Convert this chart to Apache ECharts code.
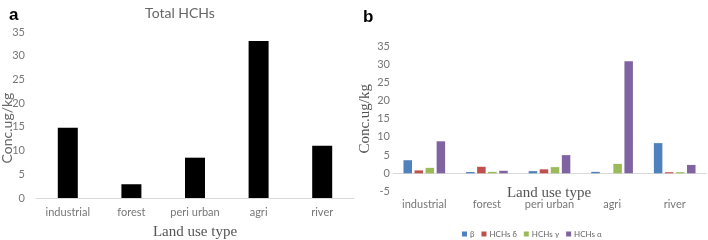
<!DOCTYPE html>
<html>
<head>
<meta charset="utf-8">
<script src="https://cdn.jsdelivr.net/npm/echarts@6/dist/echarts.min.js"></script>
<style>
  html, body { margin: 0; padding: 0; background: #fff; }
  #main { width: 708px; height: 240px; }
</style>
</head>
<body>
<div id="main"></div>
<script>
// land use categories (shared by both panels)
const categories = ['industrial', 'forest', 'peri urban', 'agri', 'river']
// panel a: total HCHs
const totalHCHs = [14.8, 2.9, 8.5, 33.1, 11.0]
// panel b: isomers
const betaHCH = [3.6, 0.35, 0.6, 0.4, 8.3]
const deltaHCH = [0.8, 1.8, 1.1, 0, 0.3]
const gammaHCH = [1.5, 0.4, 1.7, 2.6, 0.3]
const alphaHCH = [8.8, 0.7, 5.0, 30.8, 2.3]
const seriesNamesB = ['β', 'HCHs δ', 'HCHs γ', 'HCHs α']
const colorsB = ['#4F81BD', '#C0504D', '#9BBB59', '#8064A2']

const tickFont = "Lato, 'Open Sans', sans-serif"
const serif = "'Liberation Serif', 'DejaVu Serif', serif"

const chart = echarts.init(document.getElementById('main'))

const option = {
  animation: false,
  title: [
    { text: 'a', left: 4, top: 2, textStyle: { fontFamily: 'Liberation Sans', fontSize: 17, fontWeight: 'bold', color: '#000' } },
    { text: 'b', left: 358, top: 4, textStyle: { fontFamily: 'Liberation Sans', fontSize: 17, fontWeight: 'bold', color: '#000' } },
    { text: 'Total HCHs', left: 175, top: 1, textAlign: 'center', textStyle: { fontFamily: tickFont, fontSize: 14, fontWeight: 'normal', color: '#666' } },
    // panel b x-axis title (axis name gets pushed around by label overlap logic)
    { text: 'Land use type', left: 549, top: 186, textAlign: 'center', padding: 0, textStyle: { fontFamily: serif, fontSize: 15, fontWeight: 'normal', color: '#555' } },
  ],
  legend: {
    data: seriesNamesB,
    left: 462,
    top: 230,
    padding: 0,
    itemWidth: 5,
    itemHeight: 5,
    itemGap: 7,
    icon: 'rect',
    textStyle: { fontFamily: tickFont, fontSize: 8, color: '#666', padding: [0, 0, 0, -2] },
  },
  grid: [
    { left: 36, right: 354, top: 32, bottom: 42, outerBoundsMode: 'none' },
    { left: 393, right: 2, top: 46, bottom: 48.5, outerBoundsMode: 'none' },
  ],
  xAxis: [
    {
      gridIndex: 0,
      type: 'category',
      data: categories,
      name: 'Land use type',
      nameLocation: 'middle',
      nameGap: 27,
      nameMoveOverlap: false,
      nameTextStyle: { fontFamily: serif, fontSize: 15, color: '#555' },
      axisLine: { lineStyle: { color: '#d9d9d9' } },
      axisTick: { show: false },
      axisLabel: { margin: 9, interval: 0, fontFamily: tickFont, fontSize: 11, color: '#777' },
    },
    {
      gridIndex: 1,
      type: 'category',
      data: categories,
      axisLine: { onZero: true, lineStyle: { color: '#d9d9d9' } },
      axisTick: { show: false },
      axisLabel: { margin: 7, interval: 0, fontFamily: tickFont, fontSize: 11, color: '#777' },
    },
  ],
  yAxis: [
    {
      gridIndex: 0,
      type: 'value',
      min: 0,
      max: 35,
      interval: 5,
      name: 'Conc.ug/kg',
      nameLocation: 'middle',
      nameGap: 22,
      nameMoveOverlap: false,
      nameTextStyle: { fontFamily: tickFont, fontSize: 14, color: '#666', padding: [0, 26, 0, 0] },
      axisLine: { show: false },
      axisTick: { show: false },
      splitLine: { show: false },
      axisLabel: { margin: 11, fontFamily: tickFont, fontSize: 11, color: '#777' },
    },
    {
      gridIndex: 1,
      type: 'value',
      min: -5,
      max: 35,
      interval: 5,
      name: 'Conc.ug/kg',
      nameLocation: 'middle',
      nameGap: 20,
      nameMoveOverlap: false,
      nameTextStyle: { fontFamily: serif, fontSize: 15, color: '#555' },
      axisLine: { show: false },
      axisTick: { show: false },
      splitLine: { show: false },
      axisLabel: { margin: 3, fontFamily: tickFont, fontSize: 11, color: '#777' },
    },
  ],
  series: [
    {
      name: 'Total HCHs',
      type: 'bar',
      xAxisIndex: 0,
      yAxisIndex: 0,
      data: totalHCHs,
      barWidth: 20,
      itemStyle: { color: '#000' },
    },
    ...[betaHCH, deltaHCH, gammaHCH, alphaHCH].map((vals, i) => ({
      name: seriesNamesB[i],
      type: 'bar',
      xAxisIndex: 1,
      yAxisIndex: 1,
      data: vals,
      barWidth: 8.5,
      barGap: '30%',
      itemStyle: { color: colorsB[i] },
    })),
  ],
}

chart.setOption(option)
</script>
</body>
</html>
